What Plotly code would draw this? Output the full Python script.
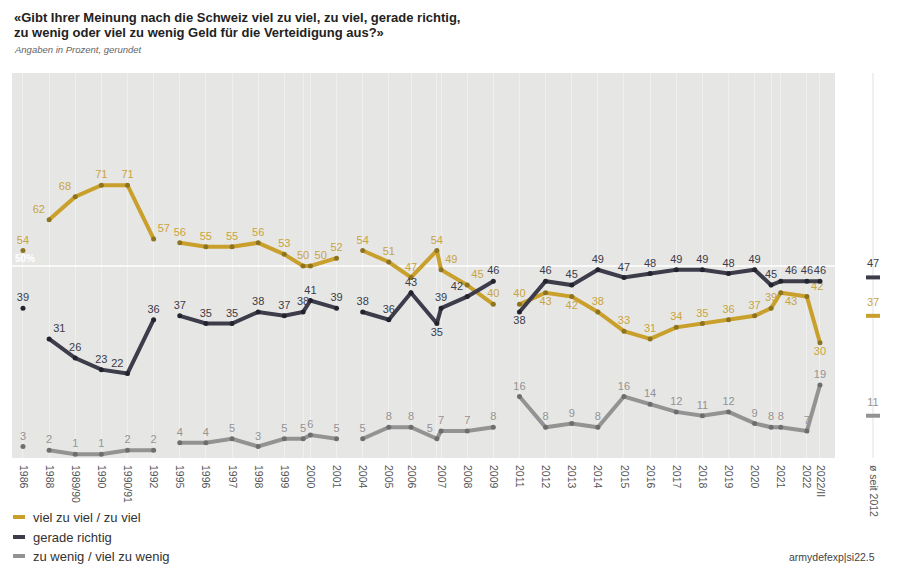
import plotly.graph_objects as go

# ---------------- data ----------------
survey_ids = ["1986", "1988", "1989/90", "1990", "1990/91", "1992",
              "1995", "1996", "1997", "1998", "1999", "1999/II", "2000", "2001",
              "2004", "2005", "2006", "2007/I", "2007", "2008", "2009",
              "2011", "2012", "2013", "2014", "2015", "2016", "2017", "2018",
              "2019", "2020", "2020/II", "2021", "2022", "2022/II"]
# position of each survey on the category axis
survey_pos = [0, 1, 2, 3, 4, 5,
              6, 7, 8, 9, 10, 10.72, 11, 12,
              13, 14, 14.85, 15.84, 16, 17, 18,
              19, 20, 21, 22, 23, 24, 25, 26,
              27, 28, 28.63, 29, 30, 30.5]
unlabeled = ["1999/II", "2007/I", "2020/II"]
breaks_after = ["1986", "1992", "2001", "2009"]

too_much = [54, 62, 68, 71, 71, 57,
            56, 55, 55, 56, 53, 50, 50, 52,
            54, 51, 47, 54, 49, 45, 40,
            40, 43, 42, 38, 33, 31, 34, 35, 36, 37, 39, 43, 42, 30]
just_right = [39, 31, 26, 23, 22, 36,
              37, 35, 35, 38, 37, 38, 41, 39,
              38, 36, 43, 35, 39, 42, 46,
              38, 46, 45, 49, 47, 48, 49, 49, 48, 49, 45, 46, 46, 46]
too_little = [3, 2, 1, 1, 2, 2,
              4, 4, 5, 3, 5, 5, 6, 5,
              5, 8, 8, 5, 7, 7, 8,
              16, 8, 9, 8, 16, 14, 12, 11, 12, 9, 8, 8, 7, 19]

avg_label = "ø seit 2012"
avg_pos = 32.53
avg_too_much = 37
avg_just_right = 47
avg_too_little = 11

series_names = ["viel zu viel / zu viel", "gerade richtig", "zu wenig / viel zu wenig"]

# ---------------- styles ----------------
C_GOLD = "#c9a02c"
C_GOLD_TXT = "#c9a440"
C_GOLD_MK = "#8f7420"
C_DARK = "#3c3c4a"
C_DARK_MK = "#24242e"
C_GREY = "#939393"
C_GREY_MK = "#6e6e6e"
FONT = "Liberation Sans, Arial, sans-serif"

TC, TL, TR, BC, BR = "top center", "top left", "top right", "bottom center", "bottom right"
pos_gold = [TC, TL, TL, TC, TC, TR,
            TC, TC, TC, TC, TC, TC, TR, TC,
            TC, TC, TC, TC, TR, TR, TC,
            TC, BC, BC, TC, TC, TC, TC, TC, TC, TC, TC, BR, TR, BC]
pos_dark = [TC, TR, TC, TC, TL, TC,
            TC, TC, TC, TC, TC, TC, TC, TC,
            TC, TC, TC, BC, TC, TL, TC,
            BC, TC, TC, TC, TC, TC, TC, TC, TC, TC, TC, TR, TC, TC]
pos_grey = [TC] * 17 + [TL] + [TC] * 17


def with_gaps(vals):
    xs, ys = [], []
    for sid, p, v in zip(survey_ids, survey_pos, vals):
        xs.append(p)
        ys.append(v)
        if sid in breaks_after:
            xs.append(None)
            ys.append(None)
    return xs, ys


def with_gaps_list(lst):
    out = []
    for sid, v in zip(survey_ids, lst):
        out.append(v)
        if sid in breaks_after:
            out.append("middle center")
    return out


fig = go.Figure()

for vals, pos, lc, mc, tc in [
    (too_little, pos_grey, C_GREY, C_GREY_MK, C_GREY),
    (too_much, pos_gold, C_GOLD, C_GOLD_MK, C_GOLD_TXT),
    (just_right, pos_dark, C_DARK, C_DARK_MK, C_DARK),
]:
    xs, ys = with_gaps(vals)
    txt = [("" if y is None else str(y)) for y in ys]
    fig.add_trace(go.Scatter(
        x=xs, y=ys, mode="lines+markers+text",
        line=dict(color=lc, width=4),
        marker=dict(size=5, color=mc),
        text=txt, textposition=with_gaps_list(pos),
        textfont=dict(size=11, color=tc, family=FONT),
        connectgaps=False, cliponaxis=False,
        showlegend=False, hoverinfo="skip"))

# averages since 2012
for v, c, tc in [(avg_just_right, C_DARK, C_DARK),
                 (avg_too_much, C_GOLD, C_GOLD_TXT),
                 (avg_too_little, C_GREY, C_GREY)]:
    fig.add_trace(go.Scatter(
        x=[avg_pos], y=[v], mode="markers+text",
        marker=dict(symbol="line-ew", size=10, line=dict(color=c, width=4)),
        text=[str(v)], textposition="top center",
        textfont=dict(size=11, color=tc, family=FONT),
        cliponaxis=False, showlegend=False, hoverinfo="skip"))

tickvals = survey_pos + [avg_pos]
ticktext = [("" if s in unlabeled else s) for s in survey_ids] + [avg_label]

# page offset (browser body margin)
OFF = 8
# plot area in page pixels
P_LEFT, P_RIGHT, P_TOP, P_BOTTOM = 12, 890, 73, 458
W, H = 900 - OFF, 580 - OFF
L, T = P_LEFT - OFF, P_TOP - OFF
R, B = W - (P_RIGHT - OFF), H - (P_BOTTOM - OFF)
PW, PH = P_RIGHT - P_LEFT, P_BOTTOM - P_TOP


def px(x):
    return (x - P_LEFT) / PW


def py(y):
    return (P_BOTTOM - y) / PH


X0, X1 = -0.42, 33.18
unit = PW / (X1 - X0)
panel_right = X0 + (835 - P_LEFT) / unit

shapes = [
    dict(type="rect", xref="x", yref="paper", x0=X0, x1=panel_right, y0=0, y1=1,
         fillcolor="#e6e6e5", line=dict(width=0), layer="below"),
    dict(type="line", xref="x", yref="y", x0=X0, x1=panel_right, y0=50, y1=50,
         line=dict(color="#ffffff", width=1.5), layer="between"),
    dict(type="line", xref="x", yref="paper", x0=avg_pos, x1=avg_pos, y0=0, y1=1,
         line=dict(color="#e0e0e0", width=1), layer="between"),
]

annotations = [
    dict(text="<b>«Gibt Ihrer Meinung nach die Schweiz viel zu viel, zu viel, gerade richtig,</b>",
         xref="paper", yref="paper", x=px(12), y=py(17.5), xanchor="left", yanchor="middle",
         showarrow=False, font=dict(size=13, color="#222222", family=FONT)),
    dict(text="<b>zu wenig oder viel zu wenig Geld für die Verteidigung aus?»</b>",
         xref="paper", yref="paper", x=px(12), y=py(32.5), xanchor="left", yanchor="middle",
         showarrow=False, font=dict(size=13, color="#222222", family=FONT)),
    dict(text="<i>Angaben in Prozent, gerundet</i>",
         xref="paper", yref="paper", x=px(12), y=py(49.5), xanchor="left", yanchor="middle",
         showarrow=False, font=dict(size=9.5, color="#666666", family=FONT)),
    dict(text="<b>50%</b>", xref="paper", yref="y", x=px(13), y=50,
         xanchor="left", yanchor="bottom", showarrow=False,
         font=dict(size=10, color="#ffffff", family=FONT)),
    dict(text="armydefexp|si22.5", xref="paper", yref="paper", x=px(877), y=py(557),
         xanchor="right", yanchor="middle", showarrow=False,
         font=dict(size=10.5, color="#444444", family=FONT)),
]

for name, col, yc in zip(series_names, [C_GOLD, C_DARK, C_GREY], [517, 537, 556]):
    shapes.append(dict(type="line", xref="paper", yref="paper",
                       x0=px(13), x1=px(25), y0=py(yc), y1=py(yc),
                       line=dict(color=col, width=4)))
    annotations.append(dict(text=name, xref="paper", yref="paper", x=px(31), y=py(yc),
                            xanchor="left", yanchor="middle", showarrow=False,
                            font=dict(size=13, color="#333333", family=FONT)))

fig.update_layout(
    width=W, height=H,
    margin=dict(l=L, r=R, t=T, b=B, pad=0, autoexpand=False),
    paper_bgcolor="#ffffff", plot_bgcolor="rgba(0,0,0,0)",
    shapes=shapes, annotations=annotations,
    xaxis=dict(range=[X0, X1], tickmode="array", tickvals=tickvals, ticktext=ticktext,
               tickangle=90, tickfont=dict(size=10.5, color="#555555", family=FONT),
               showgrid=True, gridcolor="#f0f0f0", gridwidth=1, zeroline=False,
               showline=False, ticks="", ticklabelstandoff=6, fixedrange=True,
               automargin=False),
    yaxis=dict(range=[0, 100.2], showgrid=False, showticklabels=False, zeroline=False,
               showline=False, ticks="", fixedrange=True, automargin=False),
    font=dict(family=FONT),
)

fig.write_html("out.html")
